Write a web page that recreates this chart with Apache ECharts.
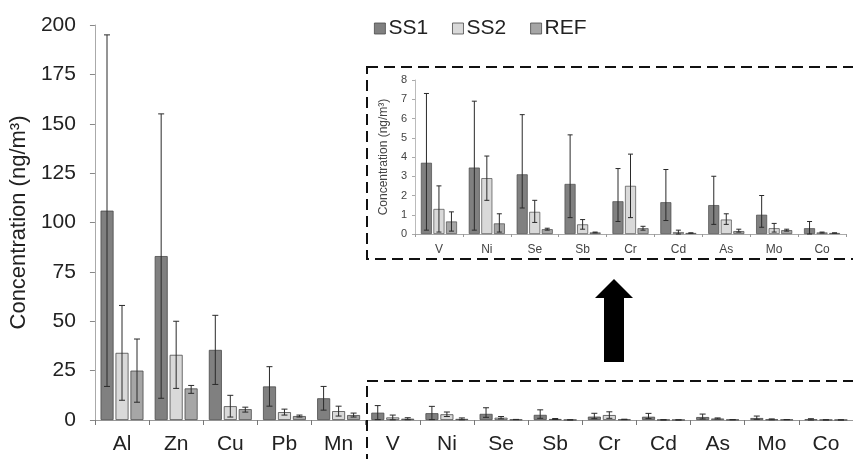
<!DOCTYPE html>
<html><head><meta charset="utf-8">
<script src="https://cdn.jsdelivr.net/npm/echarts@6/dist/echarts.min.js"></script>
<style>html,body{margin:0;padding:0;background:#fff}#c{width:853px;height:459px}</style>
</head><body><div id="c"></div>
<script>
const cats = ['Al','Zn','Cu','Pb','Mn','V','Ni','Se','Sb','Cr','Cd','As','Mo','Co'];
const insetCats = ['V','Ni','Se','Sb','Cr','Cd','As','Mo','Co'];
const mainTicks = [0,25,50,75,100,125,150,175,200];
const insetTicks = [0,1,2,3,4,5,6,7,8];
const ss1   = [106, 83, 35.5, 17, 11, 3.7, 3.45, 3.1, 2.6, 1.7, 1.65, 1.5, 1.0, 0.3];
const ss1Lo = [17, 11, 18, 7, 5, 0.2, 0.2, 1.35, 0.85, 0.65, 0.7, 0.5, 0.35, 0];
const ss1Hi = [195, 155, 53, 27, 17, 7.3, 6.9, 6.2, 5.15, 3.4, 3.35, 3.0, 2.0, 0.65];
const ss2   = [34, 33, 7, 4, 4.5, 1.3, 2.9, 1.15, 0.5, 2.5, 0.1, 0.75, 0.3, 0.08];
const ss2Lo = [10, 16, 1.5, 2.5, 2, 0.1, 1.75, 0.6, 0.25, 0.85, 0, 0.5, 0.1, 0.05];
const ss2Hi = [58, 50, 12.5, 5.5, 7, 2.5, 4.05, 1.75, 0.75, 4.15, 0.2, 1.05, 0.55, 0.1];
const ref   = [25, 16, 5.5, 2, 2.5, 0.65, 0.55, 0.25, 0.08, 0.3, 0.05, 0.15, 0.2, 0.05];
const refLo = [9, 13.5, 4, 1.5, 1.5, 0.15, 0.1, 0.2, 0.06, 0.2, 0.04, 0.1, 0.15, 0.04];
const refHi = [41, 17.5, 6.5, 2.5, 3.5, 1.15, 1.05, 0.3, 0.1, 0.4, 0.06, 0.25, 0.25, 0.06];

const names = ['SS1','SS2','REF'];
const colors = ['#808080','#d9d9d9','#a6a6a6'];
const vals = [ss1, ss2, ref], los = [ss1Lo, ss2Lo, refLo], his = [ss1Hi, ss2Hi, refHi];
const FONT = 'Liberation Sans, Arial, sans-serif';

const chart = echarts.init(document.getElementById('c'));

function errSeries(i, axisIdx, start, step, cap) {
  const data = [];
  for (let k = start; k < cats.length; k++) data.push([k - start, vals[i][k], los[i][k], his[i][k]]);
  return {
    type: 'custom', xAxisIndex: axisIdx, yAxisIndex: axisIdx, z: 5, silent: true,
    data: data,
    renderItem: function (params, api) {
      const c = api.value(0);
      const p = api.coord([c, api.value(2)]);
      const q = api.coord([c, api.value(3)]);
      const x = p[0] + (i - 1) * step;
      const st = {stroke: '#2a2a2a', lineWidth: 1};
      return {type: 'group', children: [
        {type: 'line', shape: {x1: x, y1: p[1], x2: x, y2: q[1]}, style: st},
        {type: 'line', shape: {x1: x - cap, y1: p[1], x2: x + cap, y2: p[1]}, style: st},
        {type: 'line', shape: {x1: x - cap, y1: q[1], x2: x + cap, y2: q[1]}, style: st}
      ]};
    }
  };
}

const series = [];
for (let i = 0; i < 3; i++) {
  series.push({
    name: names[i], type: 'bar', xAxisIndex: 0, yAxisIndex: 0,
    data: vals[i], barWidth: 13, barGap: '15%',
    itemStyle: {color: colors[i], borderColor: '#4a4a4a', borderWidth: 0.8}
  });
}
for (let i = 0; i < 3; i++) {
  series.push({
    name: names[i], type: 'bar', xAxisIndex: 1, yAxisIndex: 1,
    data: vals[i].slice(5), barWidth: 11, barGap: '14%',
    itemStyle: {color: colors[i], borderColor: '#4a4a4a', borderWidth: 0.7}
  });
}
for (let i = 0; i < 3; i++) series.push(errSeries(i, 0, 0, 15, 3));
for (let i = 0; i < 3; i++) series.push(errSeries(i, 1, 5, 12.5, 2.5));

const option = {
  animation: false,
  backgroundColor: '#fff',
  legend: {
    data: names, left: 369, top: 13, itemWidth: 11, itemHeight: 11, itemGap: 24,
    icon: 'rect',
    textStyle: {fontFamily: FONT, fontSize: 21, color: '#222', padding: [0,0,0,-2]},
    itemStyle: {borderColor: '#4a4a4a', borderWidth: 0.8}
  },
  grid: [
    {left: 93, right: 0, top: 25, bottom: 39},
    {left: 415, right: 7, top: 80, bottom: 225, backgroundColor: '#fff', show: true, borderWidth: 0}
  ],
  xAxis: [
    {type: 'category', gridIndex: 0, data: cats,
     axisLine: {lineStyle: {color: '#999', width: 1}},
     axisTick: {show: true, length: 5, inside: false, lineStyle: {color: '#777'}},
     axisLabel: {fontFamily: FONT, fontSize: 21, color: '#222', margin: 14}},
    {type: 'category', gridIndex: 1, data: insetCats,
     axisLine: {lineStyle: {color: '#aaa', width: 1}},
     axisTick: {show: true, length: 3, lineStyle: {color: '#999'}},
     axisLabel: {fontFamily: FONT, fontSize: 12, color: '#444', margin: 10}}
  ],
  yAxis: [
    {type: 'value', gridIndex: 0, min: mainTicks[0], max: mainTicks[mainTicks.length-1], interval: 25,
     name: 'Concentration (ng/m³)', nameLocation: 'middle', nameGap: 60, nameRotate: 90,
     nameTextStyle: {fontFamily: FONT, fontSize: 22, color: '#222'},
     axisLine: {show: true, lineStyle: {color: '#aaa', width: 1}},
     axisTick: {show: true, length: 5, lineStyle: {color: '#888'}},
     splitLine: {show: false},
     axisLabel: {fontFamily: FONT, fontSize: 21, color: '#222', margin: 19}},
    {type: 'value', gridIndex: 1, min: insetTicks[0], max: insetTicks[insetTicks.length-1], interval: 1,
     name: 'Concentration (ng/m³)', nameLocation: 'middle', nameGap: 24, nameRotate: 90,
     nameTextStyle: {fontFamily: FONT, fontSize: 12, color: '#444'},
     axisLine: {show: true, lineStyle: {color: '#bbb', width: 1}},
     axisTick: {show: true, length: 3, lineStyle: {color: '#aaa'}},
     splitLine: {show: false},
     axisLabel: {fontFamily: FONT, fontSize: 11, color: '#444', margin: 8}}
  ],
  series: series,
  graphic: [
    {type: 'rect', shape: {x: 367, y: 67, width: 500, height: 192}, z: 1,
     style: {fill: null, stroke: '#111', lineWidth: 2, lineDash: [11, 6]}},
    {type: 'rect', shape: {x: 367, y: 381, width: 500, height: 120}, z: 100,
     style: {fill: null, stroke: '#111', lineWidth: 2, lineDash: [11, 6]}},
    {type: 'polygon', z: 100,
     shape: {points: [[614, 279], [633, 298], [624, 298], [624, 362], [604, 362], [604, 298], [595, 298]]},
     style: {fill: '#000'}}
  ]
};
chart.setOption(option);
</script></body></html>
